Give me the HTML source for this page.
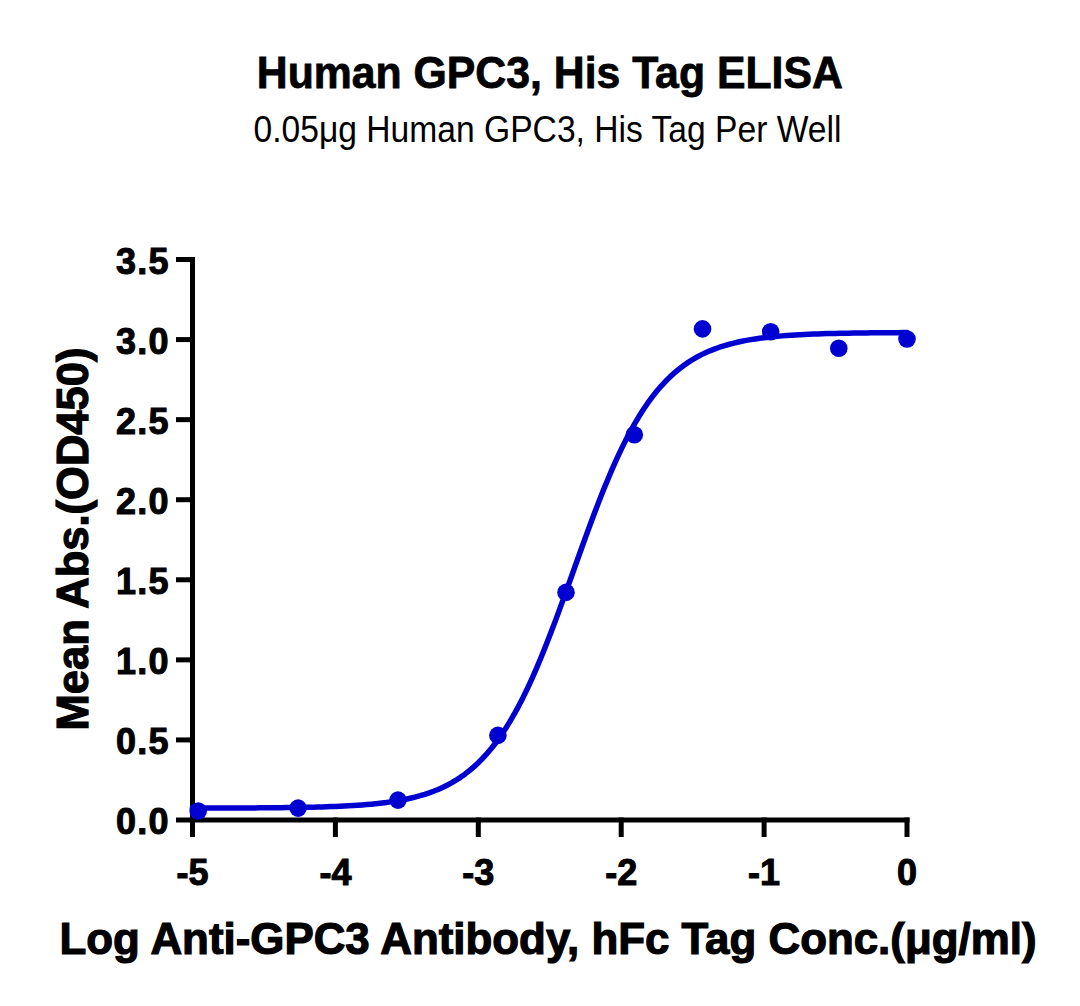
<!DOCTYPE html>
<html><head><meta charset="utf-8">
<style>
html,body{margin:0;padding:0;background:#fff;}
body{width:1080px;height:1006px;overflow:hidden;}
svg{display:block;}
text{font-family:"Liberation Sans",sans-serif;fill:#000;}
</style></head><body>
<svg width="1080" height="1006" viewBox="0 0 1080 1006">
<rect width="1080" height="1006" fill="#fff"/>
<text x="549.8" y="87.8" text-anchor="middle" font-weight="bold" font-size="45" stroke="#000" stroke-width="0.8" textLength="586" lengthAdjust="spacingAndGlyphs">Human GPC3, His Tag ELISA</text>
<text x="547.5" y="141.7" text-anchor="middle" font-size="37" textLength="588" lengthAdjust="spacingAndGlyphs">0.05μg Human GPC3, His Tag Per Well</text>
<g fill="#000">
<rect x="190" y="257" width="5" height="580"/>
<rect x="190" y="817.5" width="719.5" height="5"/>
<rect x="176" y="817.50" width="19" height="5"/>
<rect x="176" y="737.43" width="19" height="5"/>
<rect x="176" y="657.36" width="19" height="5"/>
<rect x="176" y="577.29" width="19" height="5"/>
<rect x="176" y="497.22" width="19" height="5"/>
<rect x="176" y="417.15" width="19" height="5"/>
<rect x="176" y="337.08" width="19" height="5"/>
<rect x="176" y="257.01" width="19" height="5"/>
<rect x="190.00" y="817.5" width="5" height="19.5"/>
<rect x="332.90" y="817.5" width="5" height="19.5"/>
<rect x="475.80" y="817.5" width="5" height="19.5"/>
<rect x="618.70" y="817.5" width="5" height="19.5"/>
<rect x="761.60" y="817.5" width="5" height="19.5"/>
<rect x="904.50" y="817.5" width="5" height="19.5"/>

</g>
<g font-weight="bold" font-size="36" stroke="#000" stroke-width="1.0">
<text x="168.5" y="834.00" text-anchor="end" textLength="52.5" lengthAdjust="spacing">0.0</text>
<text x="168.5" y="753.93" text-anchor="end" textLength="52.5" lengthAdjust="spacing">0.5</text>
<text x="168.5" y="673.86" text-anchor="end" textLength="52.5" lengthAdjust="spacing">1.0</text>
<text x="168.5" y="593.79" text-anchor="end" textLength="52.5" lengthAdjust="spacing">1.5</text>
<text x="168.5" y="513.72" text-anchor="end" textLength="52.5" lengthAdjust="spacing">2.0</text>
<text x="168.5" y="433.65" text-anchor="end" textLength="52.5" lengthAdjust="spacing">2.5</text>
<text x="168.5" y="353.58" text-anchor="end" textLength="52.5" lengthAdjust="spacing">3.0</text>
<text x="168.5" y="273.51" text-anchor="end" textLength="52.5" lengthAdjust="spacing">3.5</text>
<text x="192.50" y="884.5" text-anchor="middle">-5</text>
<text x="335.40" y="884.5" text-anchor="middle">-4</text>
<text x="478.30" y="884.5" text-anchor="middle">-3</text>
<text x="621.20" y="884.5" text-anchor="middle">-2</text>
<text x="764.10" y="884.5" text-anchor="middle">-1</text>
<text x="907.00" y="884.5" text-anchor="middle">0</text>

</g>
<text transform="translate(88.3,539) rotate(-90)" text-anchor="middle" font-weight="bold" font-size="45" stroke="#000" stroke-width="1.2" textLength="383" lengthAdjust="spacingAndGlyphs">Mean Abs.(OD450)</text>
<text x="548" y="954" text-anchor="middle" font-weight="bold" font-size="45" stroke="#000" stroke-width="1.2" textLength="977" lengthAdjust="spacingAndGlyphs">Log Anti-GPC3 Antibody, hFc Tag Conc.(μg/ml)</text>
<polyline points="192.50,808.10 196.97,808.09 201.43,808.09 205.90,808.08 210.36,808.07 214.83,808.06 219.29,808.05 223.76,808.04 228.22,808.02 232.69,808.01 237.16,807.99 241.62,807.97 246.09,807.95 250.55,807.93 255.02,807.90 259.48,807.87 263.95,807.84 268.42,807.80 272.88,807.76 277.35,807.72 281.81,807.67 286.28,807.62 290.74,807.56 295.21,807.49 299.68,807.42 304.14,807.33 308.61,807.24 313.07,807.14 317.54,807.03 322.00,806.90 326.47,806.76 330.93,806.61 335.40,806.44 339.87,806.25 344.33,806.03 348.80,805.80 353.26,805.54 357.73,805.25 362.19,804.93 366.66,804.57 371.12,804.18 375.59,803.74 380.06,803.25 384.52,802.71 388.99,802.12 393.45,801.46 397.92,800.72 402.38,799.91 406.85,799.02 411.32,798.02 415.78,796.92 420.25,795.71 424.71,794.37 429.18,792.88 433.64,791.25 438.11,789.45 442.58,787.46 447.04,785.27 451.51,782.87 455.97,780.22 460.44,777.32 464.90,774.14 469.37,770.66 473.83,766.86 478.30,762.72 482.77,758.20 487.23,753.30 491.70,747.98 496.16,742.22 500.63,736.01 505.09,729.33 509.56,722.16 514.03,714.49 518.49,706.32 522.96,697.64 527.42,688.46 531.89,678.79 536.35,668.64 540.82,658.04 545.28,647.01 549.75,635.61 554.22,623.88 558.68,611.86 563.15,599.62 567.61,587.22 572.08,574.73 576.54,562.21 581.01,549.74 585.48,537.38 589.94,525.20 594.41,513.26 598.87,501.62 603.34,490.32 607.80,479.42 612.27,468.95 616.73,458.93 621.20,449.40 625.67,440.36 630.13,431.83 634.60,423.80 639.06,416.28 643.53,409.25 647.99,402.71 652.46,396.63 656.92,391.01 661.39,385.81 665.86,381.02 670.32,376.61 674.79,372.57 679.25,368.86 683.72,365.47 688.18,362.38 692.65,359.55 697.12,356.98 701.58,354.64 706.05,352.51 710.51,350.58 714.98,348.82 719.44,347.24 723.91,345.80 728.38,344.49 732.84,343.31 737.31,342.24 741.77,341.28 746.24,340.41 750.70,339.62 755.17,338.91 759.63,338.27 764.10,337.69 768.57,337.16 773.03,336.69 777.50,336.27 781.96,335.88 786.43,335.54 790.89,335.23 795.36,334.95 799.83,334.69 804.29,334.47 808.76,334.26 813.22,334.08 817.69,333.91 822.15,333.76 826.62,333.62 831.08,333.50 835.55,333.39 840.02,333.29 844.48,333.21 848.95,333.13 853.41,333.05 857.88,332.99 862.34,332.93 866.81,332.88 871.27,332.83 875.74,332.79 880.21,332.75 884.67,332.71 889.14,332.68 893.60,332.66 898.07,332.63 902.53,332.61 907.00,332.59" fill="none" stroke="#0000d0" stroke-width="5.5" stroke-linejoin="round" stroke-linecap="round"/>
<g fill="#0000d0">
<circle cx="198.2" cy="811.0" r="8.8"/>
<circle cx="298.1" cy="808.1" r="8.8"/>
<circle cx="398.0" cy="800.1" r="8.8"/>
<circle cx="497.9" cy="735.4" r="8.8"/>
<circle cx="566.0" cy="592.4" r="8.8"/>
<circle cx="634.3" cy="434.8" r="8.8"/>
<circle cx="702.5" cy="328.9" r="8.8"/>
<circle cx="770.7" cy="331.8" r="8.8"/>
<circle cx="838.8" cy="348.2" r="8.8"/>
<circle cx="907.0" cy="339.0" r="8.8"/>
</g>
</svg>
</body></html>
